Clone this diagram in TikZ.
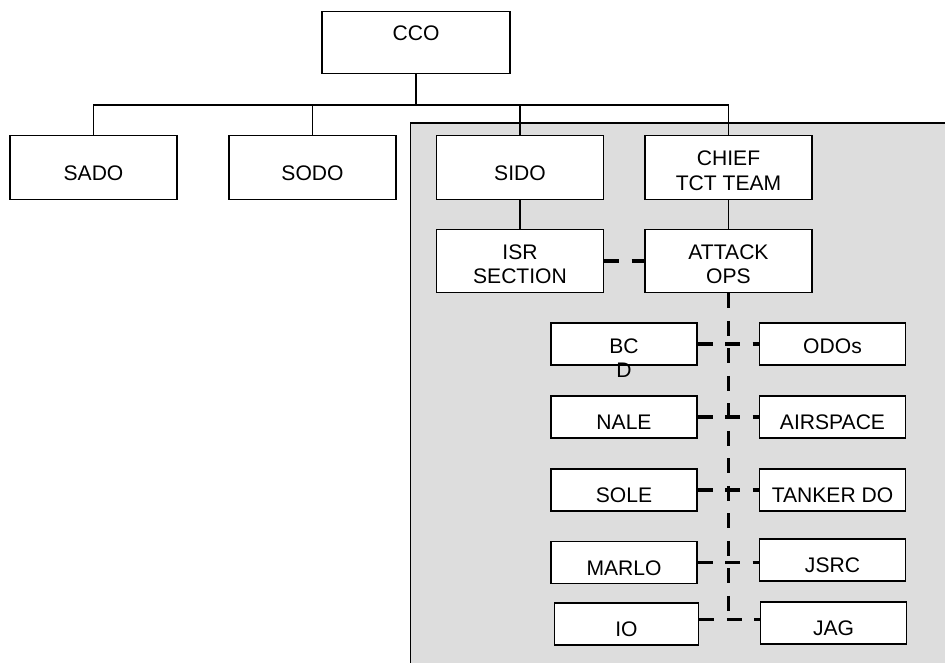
\documentclass[tikz,border=0pt]{standalone}
\usepackage{fontspec}
\setmainfont{Liberation Sans}
\usepackage{xcolor}
\usetikzlibrary{calc}
\definecolor{panelgray}{RGB}{221,221,221}
\newcommand{\boxlines}[2]{\begin{tabular}[t]{@{}c@{}}#1\\#2\end{tabular}}

\begin{document}
\begin{tikzpicture}[
    every node/.style={font=\fontsize{12}{14}\selectfont},
    box/.style={rectangle, draw, line width=0.75pt, fill=white, inner sep=2pt, text height=14.3pt, text depth=0pt},
    topbox/.style={box, minimum width=3.34cm, minimum height=1.27cm},
    lowbox/.style={box, minimum width=2.92cm, minimum height=0.84cm},
    twoline/.style={text height=8.6pt, text depth=10.6pt},
    link/.style={line width=0.7pt},
    dashlink/.style={line width=2pt, dash pattern=on 0.3cm off 0.25cm},
    panel/.style={draw, line width=0.75pt, fill=panelgray}
]
\useasboundingbox (0,0) rectangle (18.9,-13.24);

% ════════════════════════════════════════
% GREY PANEL (behind the TCT cell)
% ════════════════════════════════════════
\draw[panel] (8.21,-2.46) rectangle (19.3,-13.6);

% ════════════════════════════════════════
% TOP ROWS
% ════════════════════════════════════════
\node[topbox, minimum width=3.76cm, minimum height=1.23cm, text height=8.6pt, text depth=10.8pt] (cco) at (8.32,-0.85) {CCO};
\node[topbox] (sado) at (1.87,-3.35) {SADO};
\node[topbox] (sodo) at (6.25,-3.35) {SODO};
\node[topbox] (sido) at (10.40,-3.35) {SIDO};
\node[topbox, twoline] (chief) at (14.57,-3.35) {\boxlines{CHIEF}{TCT TEAM}};
\node[topbox, twoline] (isr) at (10.40,-5.22) {\boxlines{ISR}{SECTION}};
\node[topbox, twoline] (attack) at (14.57,-5.22) {\boxlines{ATTACK}{OPS}};

\coordinate (bus) at (0,-2.10);
\draw[link] (cco.south) -- (cco.south |- bus);
\draw[link] (sado.north) -- (sado.north |- bus) -- (bus -| chief.north) -- (chief.north);
\draw[link] (sodo.north) -- (sodo.north |- bus);
\draw[link] (sido.north) -- (sido.north |- bus);
\draw[link] (sido) -- (isr);
\draw[link] (chief) -- (attack);

% ════════════════════════════════════════
% LOWER CELLS (left and right of the spine)
% ════════════════════════════════════════
\node[lowbox, text height=10.3pt] (bcd)  at (12.48,-6.88) {\boxlines{BC}{D}};
\node[lowbox, text height=10.3pt] (odos) at (16.65,-6.88) {ODOs};
\node[lowbox] (nale)     at (12.48,-8.34)  {NALE};
\node[lowbox] (airspace) at (16.65,-8.34)  {AIRSPACE};
\node[lowbox] (sole)     at (12.48,-9.80)  {SOLE};
\node[lowbox] (tanker)   at (16.65,-9.80)  {TANKER DO};
\node[lowbox] (marlo)    at (12.48,-11.25) {MARLO};
\node[lowbox] (jsrc)     at (16.65,-11.20) {JSRC};
\node[lowbox, minimum width=2.89cm] (io) at (12.53,-12.48) {IO};
\node[lowbox] (jag)      at (16.67,-12.46) {JAG};

% ── dashed links ──
\coordinate (spineend) at (14.57,-12.39);
\draw[dashlink] (isr) -- (attack);
\draw[dashlink] (attack.south) -- (spineend);
\draw[dashlink] (bcd.east) -- (bcd.east -| odos.west);
\draw[dashlink] (nale.east) -- (nale.east -| airspace.west);
\draw[dashlink] (sole.east) -- (sole.east -| tanker.west);
\draw[dashlink] (marlo.east) -- (marlo.east -| jsrc.west);
\draw[dashlink] (io.east |- spineend) -- (spineend -| jag.west);

\end{tikzpicture}
\end{document}
